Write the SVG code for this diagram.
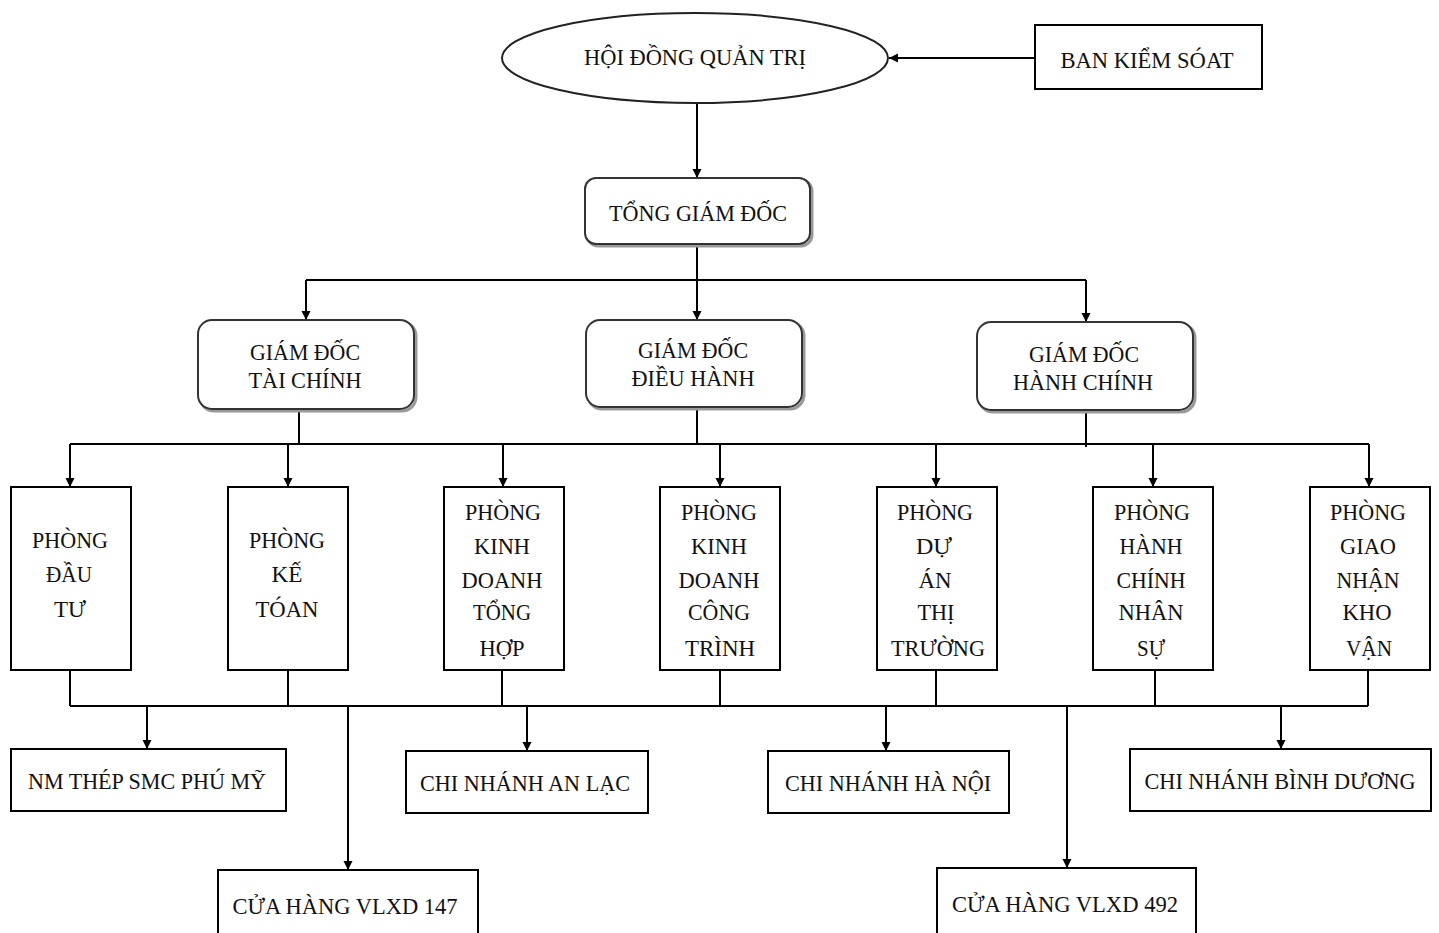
<svg xmlns="http://www.w3.org/2000/svg" width="1439" height="933" viewBox="0 0 1439 933">
<defs>
<marker id="ah" markerUnits="userSpaceOnUse" markerWidth="10" markerHeight="10" refX="9" refY="4.5" orient="auto">
<path d="M0,0 L9,4.5 L0,9 z" fill="#000"/>
</marker>
</defs>
<style>
text{font-family:"Liberation Serif","Times New Roman",serif;font-size:24px;fill:#111;text-anchor:middle}
.box{fill:#fff;stroke:#000;stroke-width:2}
.rbox{fill:#fff;stroke:#333;stroke-width:2}
.shadow{fill:none;stroke:#999;stroke-width:3}
.ln{fill:none;stroke:#000;stroke-width:2}
.ar{fill:none;stroke:#000;stroke-width:2;marker-end:url(#ah)}
</style>
<rect width="1439" height="933" fill="#fff"/>

<g id="connectors">
<path class="ar" d="M1035 58 H889"/>
<path class="ar" d="M697 102 V178"/>
<path class="ar" d="M697 244 V320"/>
<path class="ln" d="M306 280 H1086"/>
<path class="ar" d="M306 280 V320"/>
<path class="ar" d="M1086 280 V322"/>
<path class="ln" d="M299 409 V444 M697 407 V444 M1086 410 V447"/>
<path class="ln" d="M70 444 H1369"/>
<path class="ar" d="M70 444 V487"/>
<path class="ar" d="M288 444 V487"/>
<path class="ar" d="M503 444 V487"/>
<path class="ar" d="M720 444 V487"/>
<path class="ar" d="M936 444 V487"/>
<path class="ar" d="M1153 444 V487"/>
<path class="ar" d="M1369 444 V487"/>
<path class="ln" d="M70 670 V706 M288 670 V706 M502 670 V706 M720 670 V706 M936 670 V706 M1155 670 V706 M1368 670 V706"/>
<path class="ln" d="M70 706 H1368"/>
<path class="ar" d="M147 706 V749"/>
<path class="ar" d="M348 706 V870"/>
<path class="ar" d="M527 706 V751"/>
<path class="ar" d="M886 706 V751"/>
<path class="ar" d="M1067 706 V868"/>
<path class="ar" d="M1281 706 V749"/>
</g>

<g id="hoi-dong-quan-tri">
<ellipse cx="695" cy="58" rx="193" ry="45" fill="#fff" stroke="#222" stroke-width="2"/>
<text x="695" y="65" textLength="222" lengthAdjust="spacingAndGlyphs">HỘI ĐỒNG QUẢN TRỊ</text>
</g>

<g id="ban-kiem-soat">
<rect class="box" x="1035" y="25" width="227" height="64"/>
<text x="1147" y="68" textLength="173" lengthAdjust="spacingAndGlyphs">BAN KIỂM SÓAT</text>
</g>

<g id="tong-giam-doc">
<rect class="shadow" x="587" y="180" width="225" height="66" rx="11"/>
<rect class="rbox" x="585" y="178" width="225" height="66" rx="11"/>
<text x="698" y="221" textLength="178" lengthAdjust="spacingAndGlyphs">TỔNG GIÁM ĐỐC</text>
</g>

<g id="gd-tai-chinh">
<rect class="shadow" x="200" y="322" width="216" height="89" rx="14"/>
<rect class="rbox" x="198" y="320" width="216" height="89" rx="14"/>
<text x="305" y="360" textLength="110" lengthAdjust="spacingAndGlyphs">GIÁM ĐỐC</text>
<text x="305" y="388" textLength="113" lengthAdjust="spacingAndGlyphs">TÀI CHÍNH</text>
</g>

<g id="gd-dieu-hanh">
<rect class="shadow" x="588" y="322" width="216" height="87" rx="14"/>
<rect class="rbox" x="586" y="320" width="216" height="87" rx="14"/>
<text x="693" y="358" textLength="110" lengthAdjust="spacingAndGlyphs">GIÁM ĐỐC</text>
<text x="693" y="386" textLength="123" lengthAdjust="spacingAndGlyphs">ĐIỀU HÀNH</text>
</g>

<g id="gd-hanh-chinh">
<rect class="shadow" x="979" y="324" width="216" height="88" rx="14"/>
<rect class="rbox" x="977" y="322" width="216" height="88" rx="14"/>
<text x="1084" y="362" textLength="110" lengthAdjust="spacingAndGlyphs">GIÁM ĐỐC</text>
<text x="1083" y="390" textLength="140" lengthAdjust="spacingAndGlyphs">HÀNH CHÍNH</text>
</g>

<g id="phong-dau-tu">
<rect class="box" x="11" y="487" width="120" height="183"/>
<text x="70" y="548" textLength="76" lengthAdjust="spacingAndGlyphs">PHÒNG</text>
<text x="69" y="582" textLength="46" lengthAdjust="spacingAndGlyphs">ĐẦU</text>
<text x="70" y="617" textLength="32" lengthAdjust="spacingAndGlyphs">TƯ</text>
</g>

<g id="phong-ke-toan">
<rect class="box" x="228" y="487" width="120" height="183"/>
<text x="287" y="548" textLength="76" lengthAdjust="spacingAndGlyphs">PHÒNG</text>
<text x="287" y="582" textLength="31" lengthAdjust="spacingAndGlyphs">KẾ</text>
<text x="287" y="617" textLength="63" lengthAdjust="spacingAndGlyphs">TÓAN</text>
</g>

<g id="phong-kd-tong-hop">
<rect class="box" x="444" y="487" width="120" height="183"/>
<text x="503" y="520" textLength="76" lengthAdjust="spacingAndGlyphs">PHÒNG</text>
<text x="502" y="554" textLength="56" lengthAdjust="spacingAndGlyphs">KINH</text>
<text x="502" y="588" textLength="81" lengthAdjust="spacingAndGlyphs">DOANH</text>
<text x="502" y="620" textLength="58" lengthAdjust="spacingAndGlyphs">TỔNG</text>
<text x="502" y="656" textLength="45" lengthAdjust="spacingAndGlyphs">HỢP</text>
</g>

<g id="phong-kd-cong-trinh">
<rect class="box" x="660" y="487" width="120" height="183"/>
<text x="719" y="520" textLength="76" lengthAdjust="spacingAndGlyphs">PHÒNG</text>
<text x="719" y="554" textLength="56" lengthAdjust="spacingAndGlyphs">KINH</text>
<text x="719" y="588" textLength="81" lengthAdjust="spacingAndGlyphs">DOANH</text>
<text x="719" y="620" textLength="62" lengthAdjust="spacingAndGlyphs">CÔNG</text>
<text x="720" y="656" textLength="70" lengthAdjust="spacingAndGlyphs">TRÌNH</text>
</g>

<g id="phong-du-an-thi-truong">
<rect class="box" x="877" y="487" width="120" height="183"/>
<text x="935" y="520" textLength="76" lengthAdjust="spacingAndGlyphs">PHÒNG</text>
<text x="934" y="554" textLength="36" lengthAdjust="spacingAndGlyphs">DỰ</text>
<text x="935" y="588" textLength="33" lengthAdjust="spacingAndGlyphs">ÁN</text>
<text x="936" y="620" textLength="37" lengthAdjust="spacingAndGlyphs">THỊ</text>
<text x="938" y="656" textLength="94" lengthAdjust="spacingAndGlyphs">TRƯỜNG</text>
</g>

<g id="phong-hanh-chinh-nhan-su">
<rect class="box" x="1093" y="487" width="120" height="183"/>
<text x="1152" y="520" textLength="76" lengthAdjust="spacingAndGlyphs">PHÒNG</text>
<text x="1151" y="554" textLength="63" lengthAdjust="spacingAndGlyphs">HÀNH</text>
<text x="1151" y="588" textLength="69" lengthAdjust="spacingAndGlyphs">CHÍNH</text>
<text x="1151" y="620" textLength="65" lengthAdjust="spacingAndGlyphs">NHÂN</text>
<text x="1151" y="656" textLength="28" lengthAdjust="spacingAndGlyphs">SỰ</text>
</g>

<g id="phong-giao-nhan-kho-van">
<rect class="box" x="1310" y="487" width="120" height="183"/>
<text x="1368" y="520" textLength="76" lengthAdjust="spacingAndGlyphs">PHÒNG</text>
<text x="1368" y="554" textLength="56" lengthAdjust="spacingAndGlyphs">GIAO</text>
<text x="1368" y="588" textLength="63" lengthAdjust="spacingAndGlyphs">NHẬN</text>
<text x="1367" y="620" textLength="49" lengthAdjust="spacingAndGlyphs">KHO</text>
<text x="1369" y="656" textLength="46" lengthAdjust="spacingAndGlyphs">VẬN</text>
</g>

<g id="nm-thep-smc-phu-my">
<rect class="box" x="11" y="749" width="275" height="62"/>
<text x="147" y="789" textLength="238" lengthAdjust="spacingAndGlyphs">NM THÉP SMC PHÚ MỸ</text>
</g>

<g id="chi-nhanh-an-lac">
<rect class="box" x="406" y="751" width="242" height="62"/>
<text x="525" y="791" textLength="210" lengthAdjust="spacingAndGlyphs">CHI NHÁNH AN LẠC</text>
</g>

<g id="chi-nhanh-ha-noi">
<rect class="box" x="768" y="751" width="241" height="62"/>
<text x="888" y="791" textLength="206" lengthAdjust="spacingAndGlyphs">CHI NHÁNH HÀ NỘI</text>
</g>

<g id="chi-nhanh-binh-duong">
<rect class="box" x="1130" y="749" width="301" height="62"/>
<text x="1280" y="789" textLength="271" lengthAdjust="spacingAndGlyphs">CHI NHÁNH BÌNH DƯƠNG</text>
</g>

<g id="cua-hang-vlxd-147">
<rect class="box" x="218" y="870" width="260" height="70"/>
<text x="345" y="914" textLength="225" lengthAdjust="spacingAndGlyphs">CỬA HÀNG VLXD 147</text>
</g>

<g id="cua-hang-vlxd-492">
<rect class="box" x="937" y="868" width="259" height="72"/>
<text x="1065" y="912" textLength="226" lengthAdjust="spacingAndGlyphs">CỬA HÀNG VLXD 492</text>
</g>
</svg>
